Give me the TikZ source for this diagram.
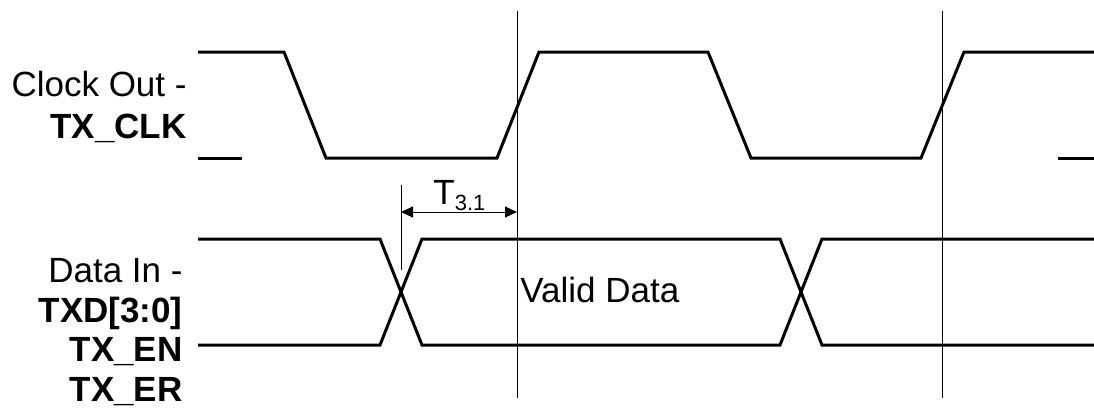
\documentclass[tikz,border=0pt]{standalone}
\usepackage{fontspec}
\setmainfont{Liberation Sans}
\usetikzlibrary{arrows.meta}
\begin{document}
\begin{tikzpicture}[x=0.5pt,y=-0.5pt,
  wave/.style={line width=1.5pt,line join=miter,line cap=butt},
  guide/.style={line width=0.5pt},
  lbl/.style={inner sep=0pt,anchor=base east,font=\fontsize{17.5}{21}\selectfont},
  blbl/.style={lbl,font=\fontsize{17.5}{21}\selectfont\bfseries},
  dim/.style={line width=0.5pt,{Triangle[length=6pt,width=5.5pt]}-{Triangle[length=6pt,width=5.5pt]}}]
\useasboundingbox (0,0) rectangle (1094,408);
% labels
\node[lbl]  (clk1) at (187,96) {Clock Out -};
\node[blbl] (clk2) at (187,138) {TX\_CLK};
\node[lbl]  (d1) at (183,282) {Data In -};
\node[blbl] (d2) at (183,322) {TXD[3:0]};
\node[blbl] (d3) at (183,361) {TX\_EN};
\node[blbl] (d4) at (183,401) {TX\_ER};
% clock waveform
\draw[wave] (198,52) -- (284,52) -- (326,158) -- (497,158) -- (539,52) -- (708,52)
  -- (751,158) -- (921,158) -- (964,52) -- (1094,52);
\draw[wave] (198,158) -- (242,158);
\draw[wave] (1058,158) -- (1094,158);
% data waveform
\draw[wave] (198,239) -- (380,239) -- (422,345) -- (780,345) -- (822,239) -- (1094,239);
\draw[wave] (198,345) -- (380,345) -- (422,239) -- (780,239) -- (822,345) -- (1094,345);
% guide lines
\coordinate (g1t) at (517,11);
\coordinate (g1b) at (517,398);
\coordinate (g2t) at (942,11);
\coordinate (g2b) at (942,398);
\coordinate (g0t) at (401,185);
\coordinate (g0b) at (401,270);
\draw[guide] (g1t) -- (g1b);
\draw[guide] (g2t) -- (g2b);
\draw[guide] (g0t) -- (g0b);
\coordinate (a1) at (401,212);
\coordinate (a2) at (517,212);
\draw[dim] (a1) -- (a2);
\node[inner sep=0pt,anchor=base west,font=\fontsize{17.5}{21}\selectfont] (t31) at (433,204) {T\raisebox{-3pt}{\fontsize{11}{13}\selectfont 3.1}};
\node[inner sep=0pt,anchor=base west,font=\fontsize{17.5}{21}\selectfont] (vd) at (520,302) {Valid Data};
\end{tikzpicture}
\end{document}
